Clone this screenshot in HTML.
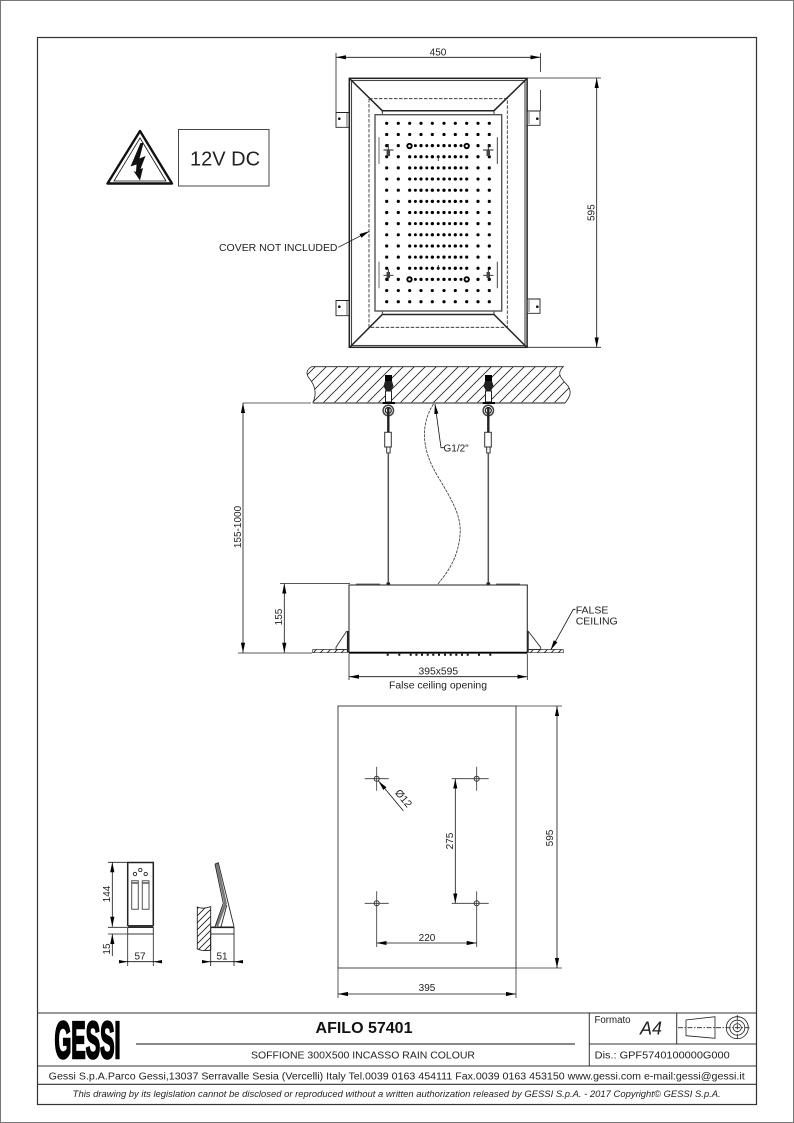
<!DOCTYPE html>
<html><head><meta charset="utf-8"><style>
html,body{margin:0;padding:0;background:#fff}
svg{display:block}
text{font-family:"Liberation Sans",sans-serif;fill:#222}
</style></head><body>
<svg width="794" height="1123" viewBox="0 0 794 1123" xmlns="http://www.w3.org/2000/svg">
<defs>
<marker id="a" viewBox="0 0 10 5" refX="10" refY="2.5" markerWidth="10" markerHeight="5" markerUnits="userSpaceOnUse" orient="auto-start-reverse"><path d="M0 .4L10 2.5L0 4.600z" fill="#000"/></marker>
<pattern id="h" patternUnits="userSpaceOnUse" width="11" height="11"><path d="M-1 12L12 -1M-1 1L1 -1M10 12L12 10" stroke="#222" stroke-width=".8" fill="none"/></pattern>
<pattern id="h2" patternUnits="userSpaceOnUse" width="7" height="7"><path d="M-1 8L8 -1M-1 1L1 -1M6 8L8 6" stroke="#222" stroke-width=".9" fill="none"/></pattern>
</defs>
<rect width="794" height="1123" fill="#fff"/>
<rect x=".5" y=".5" width="793" height="1122" fill="none" stroke="#777"/>
<rect x="37.500" y="37.500" width="719" height="1067" fill="none" stroke="#333" stroke-width="1.200"/>

<!-- warning -->
<g fill="none" stroke="#111">
<path d="M140 131L172 183.500H107.500z" stroke-width="2.400" stroke-linejoin="round"/>
<path d="M140 138L166 181H114z" stroke-width=".8"/>
</g>
<path d="M140.500 143L130.500 166.500L136.500 164.500L136 172L133.500 171L140 180.500L143 168L140.500 169L145.500 156L139.500 158.500L143.500 143z" fill="#111"/>
<rect x="178.500" y="129.500" width="90.500" height="56.500" fill="none" stroke="#333" stroke-width=".9"/>
<text x="225" y="165.700" font-size="20" text-anchor="middle">12V DC</text>

<!-- top view -->
<g fill="none" stroke="#222">
<rect x="349.300" y="78.300" width="177.800" height="269" stroke-width="1.500"/>
<rect x="351.500" y="80.500" width="173.500" height="265" stroke-width="1.100" stroke="#444"/>
<path d="M349.500 78.500L382.300 110.700H494L527 78.500M349.500 347.500L382.300 314.500H494L527 347.500" stroke-width="1.500"/>
<path d="M382.300 110.700V115M494 110.700V115M382.300 311V314.500M494 311V314.500" stroke-width=".9"/>
<rect x="369" y="98.700" width="138.300" height="228.600" stroke-width=".8" stroke-dasharray="3.500 1.500"/>
<rect x="375" y="114.700" width="126.700" height="196.300" stroke="#555" stroke-width="1.400"/>
<path d="M379 137.300V164M379 261.700V288.300" stroke="#777" stroke-width="1.100"/>
<path d="M497.300 137.300V164M497.300 261.700V288.300" stroke="#333" stroke-width=".9"/>
<path d="M336 112.500H349V127.300H336zM527.300 111H540V125.300H527.300zM336 300.500H349V315.700H336zM527.300 299H540V313.300H527.300z" fill="#fff" stroke-width=".9"/>
<path d="M347 113V127M529 112V124M347 301V315M529 300V312" stroke="#888" stroke-width="1.300"/>
</g>
<g fill="#111"><circle cx="339.300" cy="118.700" r="1.300"/><circle cx="537.300" cy="118.700" r="1.300"/><circle cx="339.300" cy="306.700" r="1.300"/><circle cx="537.300" cy="306.700" r="1.300"/></g>
<!-- main dot columns -->
<g stroke="#000" stroke-width="3.200" stroke-linecap="round" stroke-dasharray="0 11.150" fill="none">
<path d="M386.700 123.300V302M398.300 123.300V302M409.700 123.300V302M421 123.300V302M432.300 123.300V302M444 123.300V302M455.300 123.300V302M466.700 123.300V302M478 123.300V302M489.300 123.300V302"/>
</g>
<!-- inner row dots -->
<g stroke="#000" stroke-width="3" stroke-linecap="round" stroke-dasharray="0 5.700" fill="none">
<path d="M415.400 145.600H462M415.400 156.750H462M415.400 167.900H462M415.400 179.050H462M415.400 190.200H462M415.400 201.350H462M415.400 212.500H462M415.400 223.650H462M415.400 234.800H462M415.400 245.950H462M415.400 257.100H462M415.400 268.250H462M415.400 279.400H462"/>
</g>
<g fill="#fff" stroke="#000" stroke-width="1.900">
<circle cx="409.500" cy="146" r="2.200"/><circle cx="466.700" cy="146" r="2.200"/><circle cx="409.500" cy="279.400" r="2.200"/><circle cx="466.700" cy="279.400" r="2.200"/>
</g>
<g stroke="#222" stroke-width=".9" fill="none">
<path d="M383.500 150H393.500M483 150H493.500M383.500 275.300H393.500M483 275.300H493.500M388.300 144V156M488.300 144V156M388.300 269V281M488.300 269V281"/>
</g>
<g stroke="#444" stroke-width="3.500" fill="none"><path d="M388.300 150V156M488.300 150V156M388.300 272V278M488.300 272V278"/></g>
<path d="M438.300 156V161M438.300 265V270" stroke="#222" stroke-width=".8"/>

<!-- dims top -->
<g stroke="#222" stroke-width=".8" fill="none">
<path d="M336 53V112M540.500 53V72M540.500 90V111M527 78H601M527 347.300H601"/>
</g>
<g stroke="#111" stroke-width=".8" fill="none" marker-start="url(#a)" marker-end="url(#a)">
<path d="M336 57.300H540.500" marker-start="url(#a)" marker-end="url(#a)"/>
<path d="M596.700 78V347.300" marker-start="url(#a)" marker-end="url(#a)"/>
</g>
<path d="M338.300 247.300L369.300 231.300" marker-end="url(#a)" stroke="#111" stroke-width=".8" fill="none"/>
<text x="438" y="55.700" font-size="10" text-anchor="middle">450</text>
<text transform="translate(594.500,212.700) rotate(-90)" font-size="10" text-anchor="middle">595</text>
<text x="219" y="251" font-size="10" textLength="118.500" lengthAdjust="spacingAndGlyphs">COVER NOT INCLUDED</text>

<!-- wall -->
<path d="M311.700 366.700C306 370 306 374 309 378C314 384 318 392 312.700 403H565C570 397 572 392 568 386C563 380 555 374 563.300 366.700z" fill="url(#h)"/>
<path d="M312.700 403C318 392 314 384 309 378C306 374 306 370 311.700 366.700H563.300C555 374 563 380 568 386C572 392 570 397 565 403" fill="none" stroke="#222" stroke-width=".8"/>
<path d="M312.700 403H565" stroke="#666" stroke-width="1.500"/>
<path d="M243 403H311" stroke="#666" stroke-width="1.100"/>

<!-- anchors -->
<g>
<rect x="385" y="375" width="7" height="6" fill="#000"/>
<path d="M385 381H392L393.500 386L391 391H386L383.500 386z" fill="#222"/>
<rect x="385.500" y="391" width="6" height="11" fill="#fff" stroke="#222" stroke-width="1"/>
<rect x="382.700" y="402" width="12.300" height="2" fill="#000"/>
<circle cx="388.300" cy="410.500" r="5.200" fill="none" stroke="#444" stroke-width="1.500"/>
<circle cx="388.300" cy="410.500" r="3" fill="none" stroke="#222" stroke-width="1.200"/>
<path d="M388.300 408V432" stroke="#222" stroke-width="2.400"/>
<rect x="384.700" y="432.300" width="6.600" height="14.700" fill="#fff" stroke="#333" stroke-width="1"/>
<rect x="386.700" y="447" width="3.400" height="6" fill="#fff" stroke="#222" stroke-width=".9"/>
<path d="M388.300 453V584" stroke="#555" stroke-width="1.500"/>
<rect x="386.500" y="582.500" width="3.600" height="2.500" fill="#222"/>
</g>
<g transform="translate(100,0)">
<rect x="385" y="375" width="7" height="6" fill="#000"/>
<path d="M385 381H392L393.500 386L391 391H386L383.500 386z" fill="#222"/>
<rect x="385.500" y="391" width="6" height="11" fill="#fff" stroke="#222" stroke-width="1"/>
<rect x="382.700" y="402" width="12.300" height="2" fill="#000"/>
<circle cx="388.300" cy="410.500" r="5.200" fill="none" stroke="#444" stroke-width="1.500"/>
<circle cx="388.300" cy="410.500" r="3" fill="none" stroke="#222" stroke-width="1.200"/>
<path d="M388.300 408V432" stroke="#222" stroke-width="2.400"/>
<rect x="384.700" y="432.300" width="6.600" height="14.700" fill="#fff" stroke="#333" stroke-width="1"/>
<rect x="386.700" y="447" width="3.400" height="6" fill="#fff" stroke="#222" stroke-width=".9"/>
<path d="M388.300 453V584" stroke="#555" stroke-width="1.500"/>
<rect x="386.500" y="582.500" width="3.600" height="2.500" fill="#222"/>
</g>

<!-- hose -->
<path d="M433.500 404C420 425 422 450 437 475C450 497 462 515 460 535C458 558 448 572 437 585" fill="none" stroke="#333" stroke-width=".8" stroke-dasharray="3 1"/>
<path d="M444 447.700H441L435 404" fill="none" stroke="#111" stroke-width=".8" marker-end="url(#a)"/>
<text x="443.500" y="451.500" font-size="10">G1/2"</text>

<!-- box -->
<rect x="349" y="585" width="178.300" height="67.700" fill="#fff" stroke="#333" stroke-width="1.100"/>
<path d="M349 652.700H527.300" stroke="#000" stroke-width="1.800"/>
<path d="M356 584.300H380M496 584.300H520" stroke="#444" stroke-width="1.400"/>
<path d="M347.800 631V652M527.800 631V652" stroke="#222" stroke-width="1.800"/>
<path d="M346.700 631L336 647.300V649.500H347M528 631L540.700 647.300V649.500H528" fill="none" stroke="#333" stroke-width=".9"/>
<path d="M312.700 649.500H348V652.700H312.700zM528 649.500H563.300V652.700H528z" fill="url(#h2)" stroke="#333" stroke-width=".7"/>
<path d="M386.700 654.700H388.700M398.300 654.700H400.300M409.700 654.700H411.700M415.400 654.700H417.400M421 654.700H423M426.700 654.700H428.700M432.300 654.700H434.300M438 654.700H440M444 654.700H446M449.700 654.700H451.700M455.300 654.700H457.300M461 654.700H463M466.700 654.700H468.700M478 654.700H480M489.300 654.700H491.300" stroke="#111" stroke-width="2"/>

<!-- dims mid -->
<g stroke="#222" stroke-width=".8" fill="none">
<path d="M238 653H312M280 583.500H350M349 654V680M527.300 654V680"/>
</g>
<g stroke="#111" stroke-width=".8" fill="none">
<path d="M243 403V652.700" marker-start="url(#a)" marker-end="url(#a)"/>
<path d="M284.300 583.500V652.700" marker-start="url(#a)" marker-end="url(#a)"/>
<path d="M349 676.700H527.300" marker-start="url(#a)" marker-end="url(#a)"/>
<path d="M575.500 609.300H573.300L550.700 650" marker-end="url(#a)"/>
</g>
<text transform="translate(241,527) rotate(-90)" font-size="10" text-anchor="middle">155-1000</text>
<text transform="translate(282,617) rotate(-90)" font-size="10" text-anchor="middle">155</text>
<text x="438.300" y="674.700" font-size="10.300" text-anchor="middle">395x595</text>
<text x="389" y="688.700" font-size="10.300" textLength="98" lengthAdjust="spacingAndGlyphs">False ceiling opening</text>
<text x="575.700" y="613.300" font-size="10.500">FALSE</text>
<text x="575.700" y="624.300" font-size="10.500">CEILING</text>

<!-- template -->
<rect x="338" y="706" width="178" height="262" fill="none" stroke="#333" stroke-width=".9"/>
<g stroke="#333" stroke-width=".8" fill="none">
<path d="M516 706H562M516 968H562M338 968V998M516 968V998"/>
<path d="M364.700 778.700H388.700M376.700 766.700V790.700M464.700 778.700H488.700M476.700 766.700V790.700M364.700 903.300H388.700M376.700 891.300V915.300M464.700 903.300H488.700M476.700 891.300V915.300M451.700 778.700H464.700M451.700 903.300H464.700M376.700 915V947M476.700 915V947"/>
<circle cx="376.700" cy="778.700" r="2.500" stroke-width="1"/><circle cx="476.700" cy="778.700" r="2.500" stroke-width="1"/><circle cx="376.700" cy="903.300" r="2.500" stroke-width="1"/><circle cx="476.700" cy="903.300" r="2.500" stroke-width="1"/>
</g>
<g stroke="#111" stroke-width=".8" fill="none">
<path d="M557 706V968" marker-start="url(#a)" marker-end="url(#a)"/>
<path d="M338 994H516" marker-start="url(#a)" marker-end="url(#a)"/>
<path d="M455.300 778.700V903.300" marker-start="url(#a)" marker-end="url(#a)"/>
<path d="M376.700 943H476.700" marker-start="url(#a)" marker-end="url(#a)"/>
<path d="M403.300 810.700L378.500 781" marker-end="url(#a)"/>
</g>
<text transform="translate(553,838) rotate(-90)" font-size="10" text-anchor="middle">595</text>
<text x="427" y="991" font-size="10" text-anchor="middle">395</text>
<text x="427" y="941" font-size="10" text-anchor="middle">220</text>
<text transform="translate(453,841) rotate(-90)" font-size="10" text-anchor="middle">275</text>
<text transform="translate(394.500,793) rotate(50)" font-size="10.500">Ø12</text>

<!-- small front -->
<g fill="none" stroke="#222">
<path d="M127.700 926V862.500H153.300V926" stroke-width="1.500"/>
<rect x="127.700" y="925" width="25.600" height="2.500" fill="#333" stroke="none"/>
<rect x="127.700" y="927.500" width="25.600" height="6.500" stroke-width=".9"/>
<circle cx="135" cy="874" r="1.700" stroke-width=".9"/><circle cx="140.300" cy="870" r="1.700" stroke-width=".9"/><circle cx="145.700" cy="874" r="1.700" stroke-width=".9"/>
<path d="M131.700 880.700H138.300V909.300H131.700zM142.300 880.700H149V909.300H142.300z" stroke="#555" stroke-width="1"/>
<path d="M131.700 883H138.300M142.300 883H149" stroke="#555" stroke-width="1.400"/>
<path d="M108 862.300H127M108 927.300H127M108 934H127M127.700 934V966M153.300 934V966" stroke-width=".8"/>
<path d="M112.300 862.300V926.700" marker-start="url(#a)" marker-end="url(#a)" stroke="#111" stroke-width=".8"/>
<path d="M112.300 956V934" marker-end="url(#a)" stroke="#111" stroke-width=".8"/>
<path d="M120 961.700H161" stroke="#111" stroke-width=".8"/>
</g>
<path d="M119 960L127.700 961.700L119 963.400zM162 960L153.300 961.700L162 963.400z" fill="#000"/>
<text transform="translate(110,894) rotate(-90)" font-size="10" text-anchor="middle">144</text>
<text transform="translate(110,949) rotate(-90)" font-size="10" text-anchor="middle">15</text>
<text x="140" y="959.300" font-size="10" text-anchor="middle">57</text>

<!-- small side -->
<path d="M197.300 907C202 909 206 908 210.700 906.700V950C206 951 202 951 197.300 949z" fill="url(#h2)" stroke="#222" stroke-width=".9"/>
<path d="M216.700 863.500L225.500 903.300L217 926" fill="none" stroke="#777" stroke-width="2.600"/>
<g fill="none" stroke="#222" stroke-width=".9">
<rect x="210.700" y="927.300" width="23.300" height="6.700"/>
<path d="M215 864L218.300 862.700L234 926.700"/>
<path d="M215 864L223.300 903.300L215 926.700M226.800 905L221 926.700"/>
</g>
<path d="M210.700 927.300H234" stroke="#222" stroke-width="1.600"/>
<g stroke="#111" stroke-width=".8" fill="none"><path d="M210.700 934V966M234 934V966M203 961.700H242"/></g>
<path d="M202 960L210.700 961.700L202 963.400zM243 960L234 961.700L243 963.400z" fill="#000"/>
<text x="222" y="959.300" font-size="10" text-anchor="middle">51</text>

<!-- title block -->
<g stroke="#333" fill="none">
<path d="M37.500 1013H756.500M37.500 1066H756.500M37.500 1084.300H756.500" stroke-width="1.100"/>
<path d="M589.300 1013V1066M676.700 1013V1044M589.300 1044H756.500" stroke-width="1"/>
<path d="M136 1044H575" stroke-width="1" stroke="#111"/>
</g>
<text x="54.500" y="1058" font-size="52" font-weight="bold" textLength="66" lengthAdjust="spacingAndGlyphs" stroke="#000" stroke-width="2.600" style="fill:#000">GESSI</text>
<text x="364" y="1033" font-size="16" font-weight="bold" text-anchor="middle" style="fill:#111">AFILO 57401</text>
<text x="251" y="1058.300" font-size="10" textLength="224" lengthAdjust="spacingAndGlyphs">SOFFIONE 300X500 INCASSO RAIN COLOUR</text>
<text x="594.500" y="1023" font-size="9.700">Formato</text>
<text x="640" y="1034.500" font-size="18" font-style="italic">A4</text>
<text x="594.700" y="1058.300" font-size="10.500" textLength="135" lengthAdjust="spacingAndGlyphs">Dis.: GPF5740100000G000</text>
<g fill="none" stroke="#222" stroke-width=".8">
<path d="M686 1020V1035.700L715 1038.300V1016.700z"/>
<path d="M678 1027.700H750" stroke-dasharray="5 1.500 1.500 1.500"/>
<circle cx="737.300" cy="1027.700" r="11"/><circle cx="737.300" cy="1027.700" r="7.500"/><circle cx="737.300" cy="1027.700" r="4"/>
<path d="M737.300 1015V1040" stroke-dasharray="5 1.500 1.500 1.500"/>
</g>
<text x="48.700" y="1079.500" font-size="10" textLength="696" lengthAdjust="spacingAndGlyphs">Gessi S.p.A.Parco Gessi,13037 Serravalle Sesia (Vercelli) Italy Tel.0039 0163 454111 Fax.0039 0163 453150 www.gessi.com e-mail:gessi@gessi.it</text>
<text x="72.700" y="1097" font-size="8.800" font-style="italic" textLength="648" lengthAdjust="spacingAndGlyphs">This drawing by its legislation cannot be disclosed or reproduced without a written authorization released by GESSI S.p.A. - 2017 Copyright© GESSI S.p.A.</text>
</svg>
</body></html>
